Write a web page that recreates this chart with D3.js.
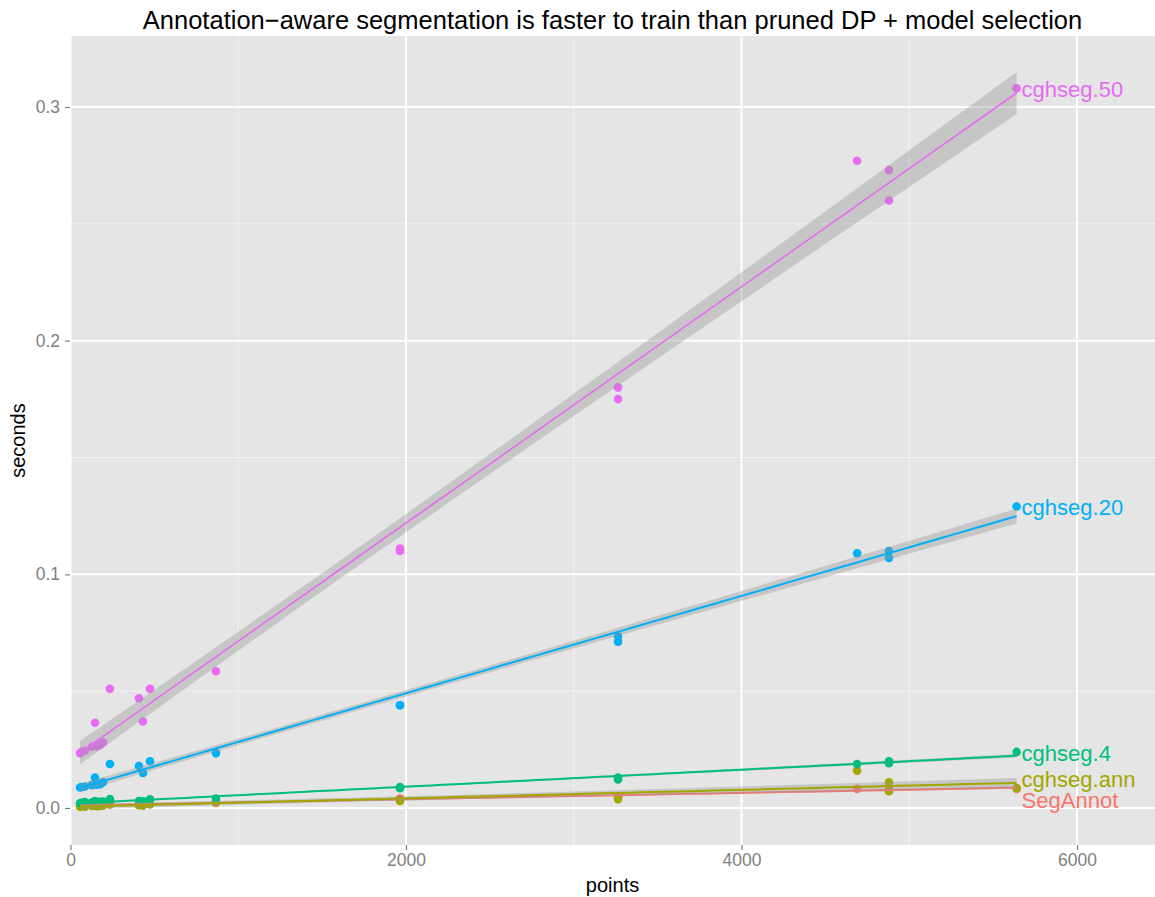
<!DOCTYPE html>
<html>
<head>
<meta charset="utf-8">
<script src="https://cdn.jsdelivr.net/npm/d3@7"></script>
<style>
  body { margin: 0; background: #fff; }
  text { font-family: "Liberation Sans", Arial, Helvetica, sans-serif; }
</style>
</head>
<body>
<div class="visHolder"></div>
<script>
// problem sizes (number of points) shared by all models
var sizes = [57, 66, 86, 128, 146, 158, 176, 194, 235, 408, 432, 474, 867, 1964, 1964, 3264, 3264, 4689, 4879, 4879, 5640];

// training time in seconds, one array per model
var segAnnot  = [0.0008, 0.0010, 0.0009, 0.0011, 0.0012, 0.0011, 0.0012, 0.0013, 0.0030, 0.0014, 0.0013, 0.0016, 0.0022, 0.0040, 0.0038, 0.0050, 0.0048, 0.0082, 0.0080, 0.0078, 0.0082];
var cghsegAnn = [0.0005, 0.0008, 0.0006, 0.0009, 0.0010, 0.0008, 0.0009, 0.0011, 0.0015, 0.0012, 0.0011, 0.0016, 0.0025, 0.0034, 0.0030, 0.0046, 0.0038, 0.0160, 0.0110, 0.0072, 0.0085];
var cghseg4   = [0.0020, 0.0022, 0.0025, 0.0024, 0.0030, 0.0025, 0.0026, 0.0028, 0.0038, 0.0030, 0.0029, 0.0037, 0.0040, 0.0090, 0.0085, 0.0130, 0.0122, 0.0188, 0.0200, 0.0192, 0.0240];
var cghseg20  = [0.0088, 0.0090, 0.0092, 0.0098, 0.0130, 0.0100, 0.0102, 0.0110, 0.0188, 0.0180, 0.0150, 0.0200, 0.0235, 0.0440, 0.0440, 0.0735, 0.0712, 0.1090, 0.1100, 0.1070, 0.1290];
var cghseg50  = [0.0235, 0.0240, 0.0245, 0.0262, 0.0365, 0.0265, 0.0270, 0.0280, 0.0510, 0.0470, 0.0370, 0.0510, 0.0585, 0.1110, 0.1100, 0.1800, 0.1750, 0.2770, 0.2730, 0.2600, 0.3080];

var models = ["SegAnnot", "cghseg.ann", "cghseg.4", "cghseg.20", "cghseg.50"];
var modelTimes = [segAnnot, cghsegAnn, cghseg4, cghseg20, cghseg50];
var colors = ["#F8766D", "#A3A500", "#00BF7D", "#00B0F6", "#E76BF3"];

var xTicks = [0, 2000, 4000, 6000];
var xMinor = [1000, 3000, 5000];
var yTicks = [0.0, 0.1, 0.2, 0.3];
var yMinor = [0.05, 0.15, 0.25];

var W = 1155, H = 897;
var panel = { left: 70, right: 1155, top: 36, bottom: 845 };

var svg = d3.select(".visHolder")
    .append("svg")
    .attr("width", W)
    .attr("height", H);

var x = d3.scaleLinear().domain([0, 6000]).range([70.5, 1077]);
var y = d3.scaleLinear().domain([0, 0.3]).range([808, 107]);

// panel background
svg.append("rect")
    .attr("x", panel.left).attr("y", panel.top)
    .attr("width", panel.right - panel.left)
    .attr("height", panel.bottom - panel.top)
    .style("fill", "#E5E5E5");

// grid lines
var grid = svg.append("g");
grid.selectAll(".xminor").data(xMinor).enter().append("line")
    .attr("x1", (d) => x(d)).attr("x2", (d) => x(d))
    .attr("y1", panel.top).attr("y2", panel.bottom)
    .style("stroke", "#F2F2F2").style("stroke-width", 1);
grid.selectAll(".yminor").data(yMinor).enter().append("line")
    .attr("y1", (d) => y(d)).attr("y2", (d) => y(d))
    .attr("x1", panel.left).attr("x2", panel.right)
    .style("stroke", "#F2F2F2").style("stroke-width", 1);
grid.selectAll(".xmajor").data(xTicks).enter().append("line")
    .attr("x1", (d) => x(d)).attr("x2", (d) => x(d))
    .attr("y1", panel.top).attr("y2", panel.bottom)
    .style("stroke", "#fff").style("stroke-width", 2);
grid.selectAll(".ymajor").data(yTicks).enter().append("line")
    .attr("y1", (d) => y(d)).attr("y2", (d) => y(d))
    .attr("x1", panel.left).attr("x2", panel.right)
    .style("stroke", "#fff").style("stroke-width", 2);

// axes
var xAxis = svg.append("g")
    .attr("transform", "translate(0," + panel.bottom + ")")
    .call(d3.axisBottom(x).tickValues(xTicks).tickSize(5).tickPadding(4).tickFormat(d3.format("d")));
var yAxis = svg.append("g")
    .attr("transform", "translate(" + panel.left + ",0)")
    .call(d3.axisLeft(y).tickValues(yTicks).tickSize(5).tickPadding(5).tickFormat(d3.format(".1f")));
[xAxis, yAxis].forEach(function(a) {
    a.select(".domain").remove();
    a.selectAll(".tick line").style("stroke", "#7F7F7F").style("stroke-width", 1.2);
    a.selectAll(".tick text").style("fill", "#7F7F7F").style("font-size", "17.5px")
        .style("font-family", '"Liberation Sans", Arial, sans-serif');
});

// points first (layer 1)
var pts = svg.append("g");
models.forEach(function(m, i) {
    var rows = sizes.map((s, j) => ({ x: s, y: modelTimes[i][j] }));
    pts.selectAll(".p" + i).data(rows).enter().append("circle")
        .attr("cx", (d) => x(d.x))
        .attr("cy", (d) => y(d.y))
        .attr("r", 4.3)
        .style("fill", colors[i]);
});

// linear fit with 95% confidence band (like geom_smooth(method="lm"))
function lmFit(xs, ys) {
    var n = xs.length;
    var mx = d3.mean(xs), my = d3.mean(ys);
    var sxx = d3.sum(xs, (v) => (v - mx) * (v - mx));
    var sxy = d3.sum(xs.map((v, k) => (v - mx) * (ys[k] - my)));
    var b = sxy / sxx, a = my - b * mx;
    var rss = d3.sum(xs.map((v, k) => Math.pow(ys[k] - (a + b * v), 2)));
    var s = Math.sqrt(rss / (n - 2));
    var t = 2.093;
    var grid = d3.range(0, 81).map((k) => d3.min(xs) + (d3.max(xs) - d3.min(xs)) * k / 80);
    return grid.map(function(g) {
        var fit = a + b * g;
        var se = s * Math.sqrt(1 / n + (g - mx) * (g - mx) / sxx);
        return { x: g, fit: fit, lo: fit - t * se, hi: fit + t * se };
    });
}

var smooth = svg.append("g");
var area = d3.area().x((d) => x(d.x)).y0((d) => y(d.lo)).y1((d) => y(d.hi));
var line = d3.line().x((d) => x(d.x)).y((d) => y(d.fit));
models.forEach(function(m, i) {
    var f = lmFit(sizes, modelTimes[i]);
    smooth.append("path").datum(f).attr("d", area)
        .style("fill", "#999999").style("opacity", 0.4);
    smooth.append("path").datum(f).attr("d", line)
        .style("fill", "none").style("stroke", colors[i])
        .style("stroke-width", i === 4 ? 1.6 : 2);
});

// direct labels at last point, pushed apart when they collide
var minGap = 21;
var labels = models.map(function(m, i) {
    var last = sizes.length - 1;
    return { name: m, color: colors[i], x: x(sizes[last]) + 5, y: y(modelTimes[i][last]) };
});
labels.sort((a, b) => a.y - b.y);
for (var it = 0; it < 50; it++) {
    for (var k = 1; k < labels.length; k++) {
        var gap = labels[k].y - labels[k - 1].y;
        if (gap < minGap) {
            var push = (minGap - gap) / 2;
            labels[k].y += push;
            labels[k - 1].y -= push;
        }
    }
}
svg.append("g").selectAll("text").data(labels).enter().append("text")
    .attr("x", (d) => d.x)
    .attr("y", (d) => d.y + 1)
    .attr("dy", "0.35em")
    .text((d) => d.name)
    .style("fill", (d) => d.color)
    .style("font-size", "22px");

// titles
svg.append("text")
    .attr("x", (panel.left + panel.right) / 2)
    .attr("y", 29)
    .attr("text-anchor", "middle")
    .style("font-size", "25.5px")
    .text("Annotation\u2212aware segmentation is faster to train than pruned DP + model selection");

svg.append("text")
    .attr("x", (panel.left + panel.right) / 2)
    .attr("y", 892)
    .attr("text-anchor", "middle")
    .style("font-size", "20px")
    .text("points");

svg.append("text")
    .attr("transform", "translate(25," + ((panel.top + panel.bottom) / 2) + ") rotate(-90)")
    .attr("text-anchor", "middle")
    .style("font-size", "20px")
    .text("seconds");
</script>
</body>
</html>
